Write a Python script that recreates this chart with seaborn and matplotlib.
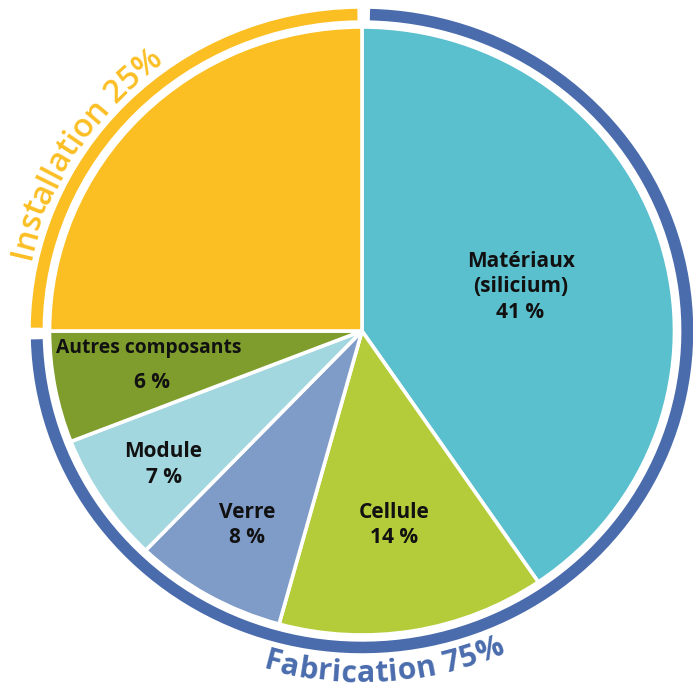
import matplotlib
matplotlib.use("Agg")
import matplotlib.pyplot as plt
import seaborn as sns
import numpy as np
from matplotlib.patches import Wedge
from matplotlib.font_manager import FontProperties, findfont, get_font

# ---------------- data ----------------
categories = ["Matériaux\n(silicium)", "Cellule", "Verre", "Module", "Autres composants", "Installation"]
values = [41, 14, 8, 7, 6, 25]
value_labels = ["41 %", "14 %", "8 %", "7 %", "6 %", "25 %"]
groups = ["Fabrication", "Installation"]
group_values = [75, 25]
group_labels = ["Fabrication 75%", "Installation 25%"]
colors = ["#5BC0CE", "#B5CC3A", "#7F9CC9", "#A2D7E0", "#7F9D2C", "#FBBF24"]
group_colors = ["#4A6CAD", "#FBBF24"]

# ---------------- style ----------------
sns.set_theme(style="white")
plt.rcParams['font.family'] = ['Open Sans', 'DejaVu Sans']

W, H = 693, 690
fig = plt.figure(figsize=(W / 100, H / 100), dpi=100)
ax = fig.add_axes([0, 0, 1, 1])

# scale the fabrication components so that they fill the fabrication share
fab_sum = sum(values[:5])
pie_vals = [v / fab_sum * group_values[0] for v in values[:5]] + [group_values[1]]

wedges, _ = ax.pie(pie_vals, colors=colors, startangle=90, counterclock=False,
                   radius=1.0, wedgeprops=dict(edgecolor="white", linewidth=2.6))

cx, cy = 362, 331
rx, ry = 312.5, 304
ax.set_aspect("auto")
ax.set_xlim(-cx / rx, (W - cx) / rx)
ax.set_ylim(-(H - cy) / ry, cy / ry)
ax.axis("off")

def px2d(px, py):
    return (px - cx) / rx, (cy - py) / ry

# outer group ring
inst_deg = group_values[1] / sum(group_values) * 360
ring_r, ring_w = 1.060, 0.038
ax.add_patch(Wedge((0, 0), ring_r, 90 + 0.8, 90 + inst_deg - 0.6, width=ring_w,
                   facecolor=group_colors[1], edgecolor="none"))
ax.add_patch(Wedge((0, 0), ring_r, 90 + inst_deg + 1.5, 450 - 1.4, width=ring_w,
                   facecolor=group_colors[0], edgecolor="none"))

# ---------------- slice labels ----------------
fig.canvas.draw()
renderer = fig.canvas.get_renderer()

def text_w(s, fp):
    w, h, d = renderer.get_text_width_height_descent(s, fp, ismath=False)
    return w

lab_fp = FontProperties(family=['Open Sans', 'DejaVu Sans'], weight='bold', size=10)
lab_size = 10 * 108 / text_w("Matériaux", lab_fp)
small_fp = FontProperties(family=['Open Sans', 'DejaVu Sans'], weight='bold', size=10)
small_size = 10 * 186 / text_w("Autres composants", small_fp)

label_pos = {
    0: [(521, 261), (521, 286), (520, 312)],
    1: [(394, 512), (394, 537)],
    2: [(247, 512), (247, 537)],
    3: [(163, 451), (164, 477)],
    4: [(149, 348), (152, 382)],
}
txt_color = "#111111"
for i, pos in label_pos.items():
    lines = categories[i].split("\n") + [value_labels[i]]
    size = small_size if i == 4 else lab_size
    for j, (line, (px, py)) in enumerate(zip(lines, pos)):
        s = size if not (i == 4 and j == 1) else lab_size
        x, y = px2d(px, py)
        ax.text(x, y, line, ha="center", va="center", fontsize=s,
                fontweight="bold", color=txt_color)

# ---------------- curved group labels ----------------
def char_advances(s, fp, size):
    font = get_font(findfont(fp))
    font.set_size(size, 100)
    adv = []
    for c in s:
        g = font.load_char(ord(c))
        adv.append(g.linearHoriAdvance / 65536.0)
    return np.array(adv)

def curved(s, color, weight, center_deg, span_deg, r_base, r_ref, clockwise):
    fp = FontProperties(family=['Open Sans', 'DejaVu Sans'], weight=weight)
    a10 = char_advances(s, fp, 10)
    rpx = r_ref * (rx + ry) / 2
    target = np.deg2rad(span_deg) * rpx
    size = 10 * target / a10.sum()
    adv = a10 * size / 10
    centers = np.cumsum(adv) - adv / 2 - adv.sum() / 2
    for c, off in zip(s, centers):
        dth = np.rad2deg(off / rpx)
        th = center_deg - dth if clockwise else center_deg + dth
        t = np.deg2rad(th)
        x, y = r_base * np.cos(t), r_base * np.sin(t)
        rot = th - 90 if clockwise else th + 90
        ax.text(x, y, c, color=color, fontsize=size, fontweight=weight,
                rotation=rot, rotation_mode="anchor", ha="center", va="baseline")

curved(group_labels[1], group_colors[1], "semibold", 146.6, 41.9, 1.088, 1.115, True)
curved(group_labels[0], group_colors[0], "bold", 273.7, 39.6, 1.155, 1.13, False)

fig.savefig("out.png", dpi=100, facecolor="white")
